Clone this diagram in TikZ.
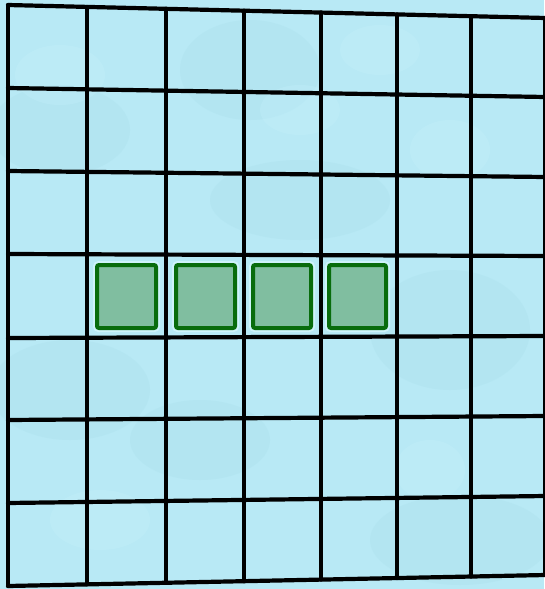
\documentclass[tikz,border=0pt]{standalone}
\definecolor{bgblue}{RGB}{184,233,245}
\definecolor{bgdark}{RGB}{170,224,236}
\definecolor{bglight}{RGB}{196,240,250}
\definecolor{markgreen}{RGB}{8,108,12}
\definecolor{markfill}{RGB}{128,190,160}
\definecolor{halo}{RGB}{206,243,250}

\begin{document}
\begin{tikzpicture}[
  x=1pt, y=-1pt,
  gridline/.style={line width=4.2pt, line cap=round, line join=round},
  halobox/.style={draw=halo, line width=8pt, rounded corners=2pt},
  markbox/.style={draw=markgreen, fill=markfill, line width=4pt, rounded corners=2pt},
  blob/.style={fill=#1, opacity=0.35}
]
\useasboundingbox (0,0) rectangle (544,589);
\fill[bgblue] (0,0) rectangle (544,589);

% faint texture of the paper
\foreach \bx/\by/\ba/\bb/\bc in {60/130/70/45/bgdark, 70/390/80/50/bgdark, 250/70/70/50/bgdark,
    300/200/90/40/bgdark, 450/330/80/60/bgdark, 460/540/90/45/bgdark, 200/440/70/40/bgdark,
    60/75/45/30/bglight, 300/110/40/25/bglight, 450/150/40/30/bglight, 100/520/50/30/bglight,
    430/470/35/30/bglight, 380/50/40/25/bglight}
  \fill[blob=\bc] (\bx,\by) ellipse ({\ba} and {\bb});

% rows: left end / right end
\foreach \yl/\yr in {5/18, 88/97, 171/177, 254/256, 338/336, 420/416, 503/496, 586/575}
  \draw[gridline] (8,\yl) -- (545.5,\yr);

% columns
\foreach \xx [evaluate=\xx as \yt using 5+(\xx-8)*13/538,
              evaluate=\xx as \yb using 586-(\xx-8)*11/538]
    in {8,87,166,244,321,397,471,545.5}
  \draw[gridline] (\xx,\yt) -- (\xx,\yb);

% marked cells in the fourth row
\foreach \xl/\xr in {97/156, 176/235, 253/311, 329/386} {
  \draw[halobox] (\xl,265) rectangle (\xr,328);
  \draw[markbox] (\xl,265) rectangle (\xr,328);
}
\end{tikzpicture}
\end{document}
